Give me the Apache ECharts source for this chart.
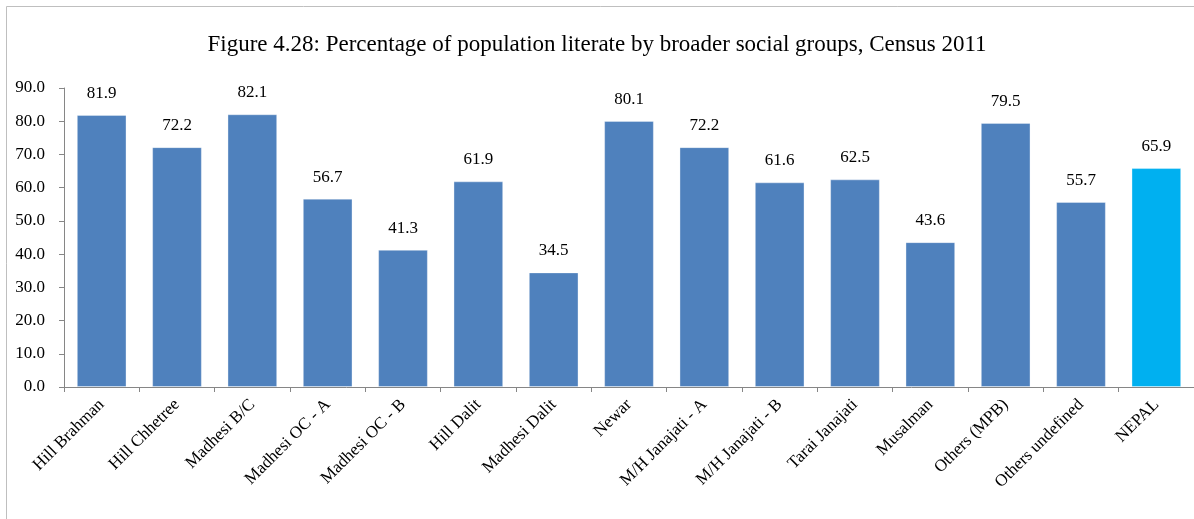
<!DOCTYPE html>
<html><head><meta charset="utf-8">
<script src="https://cdn.jsdelivr.net/npm/echarts@6/dist/echarts.min.js"></script>
<style>html,body{margin:0;padding:0;background:#fff}#c{width:1194px;height:519px}</style>
</head><body><div id="c"></div>
<script>
const categories = ["Hill Brahman","Hill Chhetree","Madhesi B/C","Madhesi OC - A","Madhesi OC - B","Hill Dalit","Madhesi Dalit","Newar","M/H Janajati - A","M/H Janajati - B","Tarai Janajati","Musalman","Others (MPB)","Others undefined","NEPAL"];
const values = [81.9,72.2,82.1,56.7,41.3,61.9,34.5,80.1,72.2,61.6,62.5,43.6,79.5,55.7,65.9];
const yTicks = [0,10,20,30,40,50,60,70,80,90];
const titleText = "Figure 4.28: Percentage of population literate by broader social groups, Census 2011";
const serif = "'Liberation Serif','DejaVu Serif',serif";
const chart = echarts.init(document.getElementById('c'));
chart.setOption({
  animation:false,
  title:{text:titleText,left:'center',top:28,textStyle:{fontFamily:serif,fontSize:23,fontWeight:'normal',color:'#000'}},
  graphic:[{type:'rect',shape:{x:6.5,y:6.5,width:1200,height:520},style:{fill:'none',stroke:'#bfbfbf',lineWidth:1},silent:true,z:-1}],
  grid:{left:64,top:88,width:1133,height:299,containLabel:false},
  xAxis:{type:'category',data:categories,
    axisLine:{lineStyle:{color:'#868686'}},
    axisTick:{show:true,alignWithLabel:false,length:5,lineStyle:{color:'#868686'}},
    axisLabel:{rotate:45,interval:0,fontFamily:serif,fontSize:17,color:'#000',margin:15}},
  yAxis:{type:'value',min:0,max:90,interval:10,
    axisLine:{show:true,lineStyle:{color:'#868686'}},
    axisTick:{show:true,length:5,lineStyle:{color:'#868686'}},
    splitLine:{show:false},
    axisLabel:{fontFamily:serif,fontSize:17,color:'#000',margin:19,formatter:v=>v.toFixed(1)}},
  series:[{type:'bar',barCategoryGap:'34%',
    data:values.map((v,i)=>({value:v,itemStyle:{color:categories[i]==='NEPAL'?'#00B0F0':'#4F81BD'}})),
    itemStyle:{borderColor:'rgba(255,255,255,0.35)',borderWidth:1},
    label:{show:true,position:'top',distance:13,fontFamily:serif,fontSize:17,color:'#000',formatter:p=>p.value.toFixed(1)}}]
});
</script></body></html>
